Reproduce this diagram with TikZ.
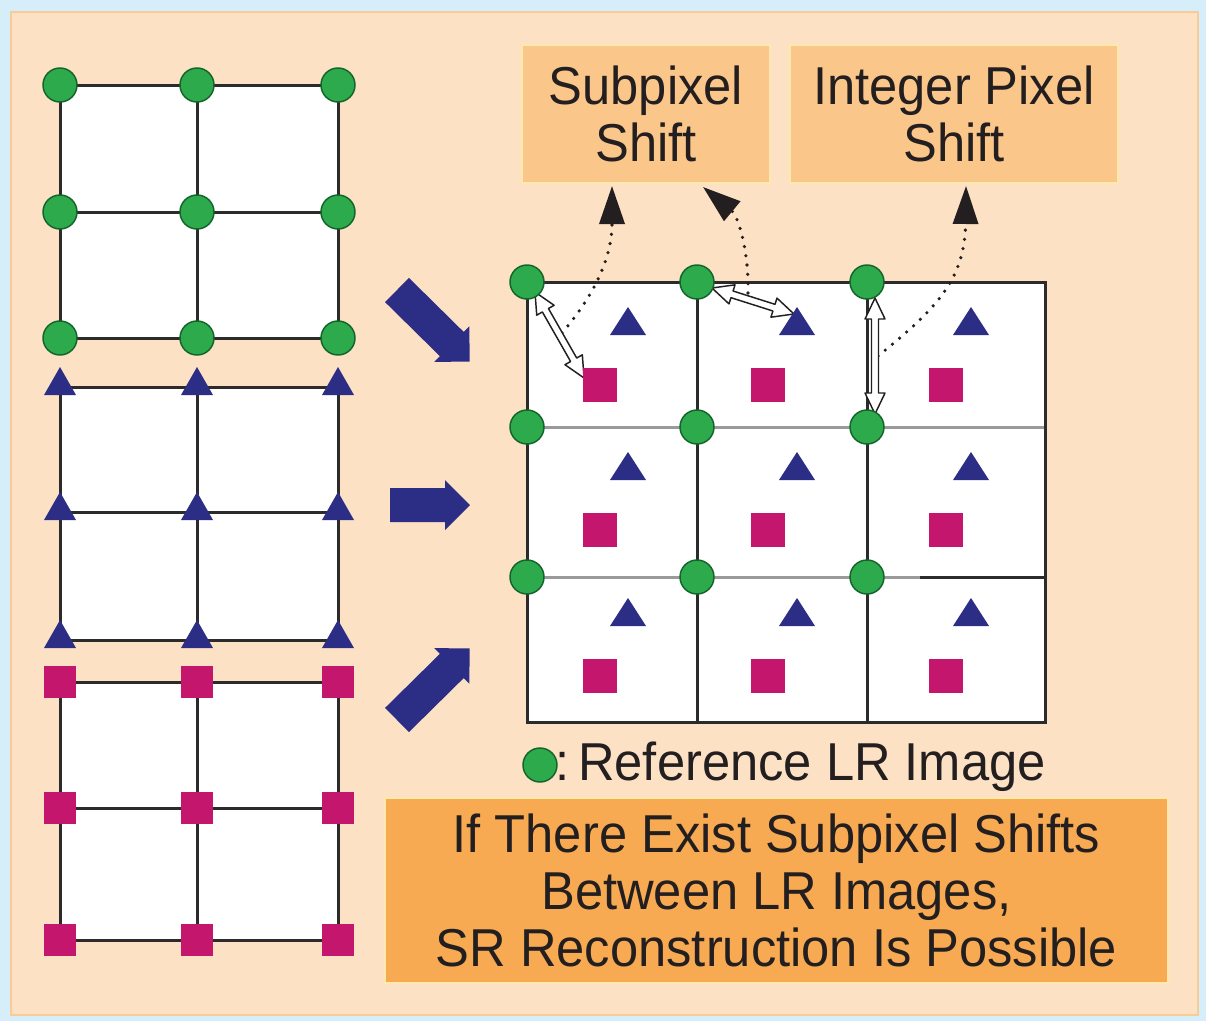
\documentclass[tikz,border=0pt]{standalone}
\usepackage{fontspec}
\newfontfamily\labfont[FakeStretch=0.95]{Liberation Sans}
\usetikzlibrary{arrows.meta,calc}

\definecolor{skyback}{HTML}{D6EEF9}
\definecolor{peach}{HTML}{FDE1C4}
\definecolor{peachedge}{HTML}{F9CB97}
\definecolor{boxfill}{HTML}{FBC68A}
\definecolor{notefill}{HTML}{F7AA52}
\definecolor{boxedge}{HTML}{FDE8AE}
\definecolor{inkc}{HTML}{231F20}
\definecolor{gridc}{HTML}{2B2B2B}
\definecolor{softgrid}{HTML}{9A9A9A}
\definecolor{dotgreen}{HTML}{2DAA4B}
\definecolor{dotedge}{HTML}{14652C}
\definecolor{navy}{HTML}{2C2E86}
\definecolor{berry}{HTML}{C5166E}

% filled triangle marker: x, apex y, half width, height
\newcommand\trimark[4]{\fill[navy] ({#1-#3},{#2+#4}) -- (#1,#2) -- ({#1+#3},{#2+#4}) -- cycle;}
% thick block arrow: tail x, tail y, angle, length
\newcommand\blockarrow[4]{%
  \begin{scope}[shift={(#1,#2)},rotate=#3]
    \fill[navy] (0,-17) -- ({#4-25},-17) -- ({#4-25},-25) -- (#4,0)
      -- ({#4-25},25) -- ({#4-25},17) -- (0,17) -- cycle;
  \end{scope}}
% thin hollow double-headed arrow: start x, start y, angle, length
\newcommand\hollowarrow[4]{%
  \begin{scope}[shift={(#1,#2)},rotate=#3]
    \filldraw[hollow] (0,0) -- (21,-10) -- (21,-3.5) -- ({#4-21},-3.5) -- ({#4-21},-10)
      -- (#4,0) -- ({#4-21},10) -- ({#4-21},3.5) -- (21,3.5) -- (21,10) -- cycle;
  \end{scope}}

\begin{document}
\begin{tikzpicture}[x=0.75pt,y=-0.75pt,
  gridline/.style={draw=gridc,line width=2.25pt},
  softline/.style={draw=softgrid,line width=2.25pt},
  dot/.style={circle,fill=dotgreen,draw=dotedge,line width=1.1pt,minimum size=25.5pt,inner sep=0pt},
  sqmark/.style={rectangle,fill=berry,minimum size=24pt,inner sep=0pt},
  bigsq/.style={sqmark,minimum size=25.5pt},
  textstyle/.style={text=inkc,align=center,font=\labfont\fontsize{40pt}{42.75pt}\selectfont},
  labelbox/.style={textstyle,rectangle,draw=boxedge,line width=1.5pt,fill=boxfill,inner sep=0pt},
  notebox/.style={labelbox,fill=notefill},
  hollow/.style={draw=inkc,fill=white,line width=1.1pt,line join=round},
  dotlink/.style={draw=inkc,line width=2.7pt,line cap=round,dash pattern=on 0pt off 7pt,
    -{Triangle[length=28.5pt,width=18.75pt]}}]

\useasboundingbox (0,0) rectangle (1206,1021);
\fill[skyback] (0,0) rectangle (1206,1021);
\filldraw[fill=peach,draw=peachedge,line width=1.5pt] (11,12) rectangle (1198,1015);

% caption boxes
\node[labelbox,minimum width=186pt,minimum height=103.5pt] (sub) at (646,114) {Subpixel\\Shift};
\node[labelbox,minimum width=246pt,minimum height=103.5pt] (int) at (954,114) {Integer Pixel\\Shift};
\node[notebox,minimum width=587.25pt,minimum height=138.75pt] (note) at (776.5,890.5)
  {If There Exist Subpixel Shifts\\Between LR Images,\\SR Reconstruction Is Possible};

% legend
\node[dot] (legdot) at (540,765) {};
\node[textstyle,anchor=base west,inner sep=0pt] (legtxt) at (555,780) {:\,Reference LR Image};

% three low-resolution grids
\foreach \ya/\yb/\yc in {85/212/338, 387/512/640, 682/808/940}{
  \fill[white] (60,\ya) rectangle (338,\yc);
  \draw[gridline] (60,\ya) rectangle (338,\yc);
  \draw[gridline] (197,\ya) -- (197,\yc);
  \draw[gridline] (60,\yb) -- (338,\yb);
}
\foreach \x [count=\i] in {60,197,338}{
  \foreach \y [count=\j] in {85,212,338}{
    \node[dot] (g\j\i) at (\x,\y) {};
  }
  \foreach \y in {387,512,640}{
    \trimark{\x}{\y-20}{16}{28}
  }
  \foreach \y [count=\j] in {682,808,940}{
    \node[sqmark] (q\j\i) at (\x,\y) {};
  }
}

% block arrows toward the combined grid
\blockarrow{397}{290}{-44.6}{102}
\blockarrow{390}{505}{0}{80}
\blockarrow{397}{720}{44.6}{102}

% combined high-resolution grid
\fill[white] (527,282) rectangle (1045,722);
\draw[softline] (527,427) -- (1045,427);
\draw[softline] (527,577) -- (920,577);
\draw[gridline] (920,577) -- (1045,577);
\draw[gridline] (697,282) -- (697,722);
\draw[gridline] (867,282) -- (867,722);
\draw[gridline] (527,282) rectangle (1045,722);

% dotted links to the caption boxes
\coordinate (tipA) at (612,186);
\coordinate (tipB) at (703,187);
\coordinate (tipC) at (966,186);
\coordinate (midA) at (562,333);
\coordinate (midB) at (748,293);
\coordinate (midC) at (878,356);
\draw[dotlink] (midA) .. controls (590,300) and (612,262) .. (tipA);
\draw[dotlink] (midB) .. controls (749,250) and (738,216) .. (tipB);
\draw[dotlink] (midC) .. controls (935,310) and (965,280) .. (tipC);

% shift arrows between samples
\hollowarrow{535}{292}{-60.3}{99}
\hollowarrow{712}{288}{-17.6}{86}
\hollowarrow{875}{298}{-90}{116}

% samples of the three images on the combined grid
\foreach \x [count=\i] in {527,697,867}{
  \foreach \y [count=\j] in {282,427,577}{
    \node[dot] (r\j\i) at (\x,\y) {};
  }
}
\foreach \x in {628,797,971}{
  \foreach \y in {307,452,598}{
    \trimark{\x}{\y}{18}{28}
  }
}
\foreach \x [count=\i] in {600,768,946}{
  \foreach \y [count=\j] in {385,530,676}{
    \node[bigsq] (s\j\i) at (\x,\y) {};
  }
}
\end{tikzpicture}
\end{document}
